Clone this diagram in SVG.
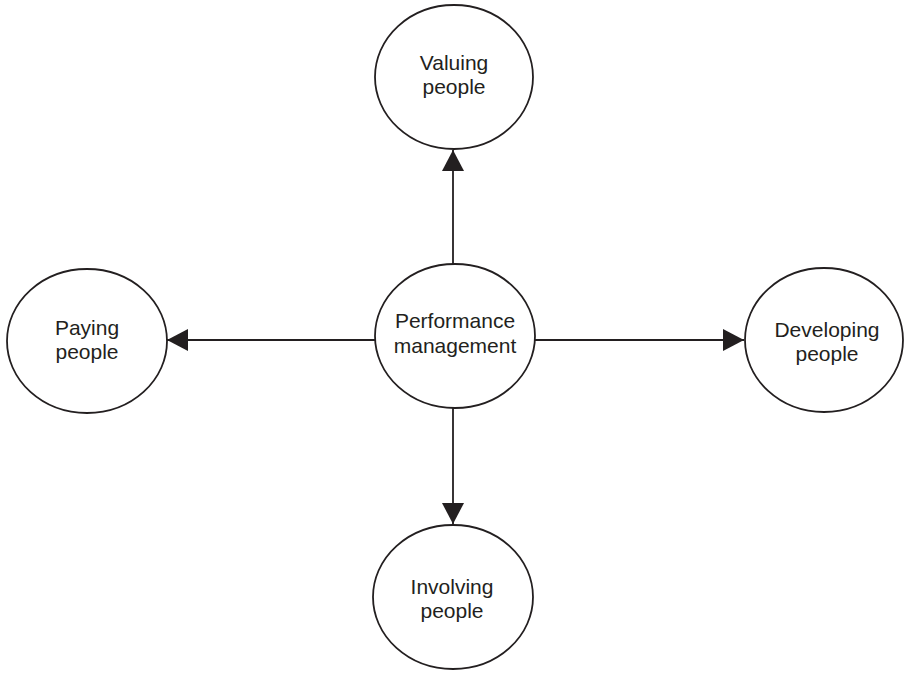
<svg xmlns="http://www.w3.org/2000/svg" width="905" height="673" viewBox="0 0 905 673">
<style>
.node ellipse{fill:#fff;stroke:#231f20;stroke-width:1.8}
.node text{font-family:"Liberation Sans",Arial,sans-serif;font-size:21px;fill:#231f20;text-anchor:middle}
.conn line{stroke:#231f20;stroke-width:1.8}
</style>
<defs>
<marker id="arr" markerUnits="userSpaceOnUse" markerWidth="21" markerHeight="22" refX="21" refY="11" orient="auto">
<path d="M0,0 L21,11 L0,22 z" fill="#231f20"/>
</marker>
</defs>
<rect width="905" height="673" fill="#fff"/>
<g id="connectors" class="conn">
<line x1="453" y1="264" x2="453" y2="150" marker-end="url(#arr)"/>
<line x1="375" y1="340" x2="167" y2="340" marker-end="url(#arr)"/>
<line x1="535" y1="340" x2="744" y2="340" marker-end="url(#arr)"/>
<line x1="453" y1="408" x2="453" y2="524" marker-end="url(#arr)"/>
</g>
<g id="valuing" class="node">
<ellipse cx="454" cy="77" rx="79" ry="72"/>
<text x="454" y="70">Valuing</text>
<text x="454" y="94">people</text>
</g>
<g id="performance" class="node">
<ellipse cx="455" cy="336" rx="80" ry="72"/>
<text x="455" y="328">Performance</text>
<text x="455" y="353">management</text>
</g>
<g id="paying" class="node">
<ellipse cx="87" cy="341" rx="80" ry="72"/>
<text x="87" y="335">Paying</text>
<text x="87" y="359">people</text>
</g>
<g id="developing" class="node">
<ellipse cx="824" cy="340" rx="79" ry="72"/>
<text x="827" y="337">Developing</text>
<text x="827" y="361">people</text>
</g>
<g id="involving" class="node">
<ellipse cx="453" cy="597" rx="80" ry="72"/>
<text x="452" y="594">Involving</text>
<text x="452" y="618">people</text>
</g>
</svg>
